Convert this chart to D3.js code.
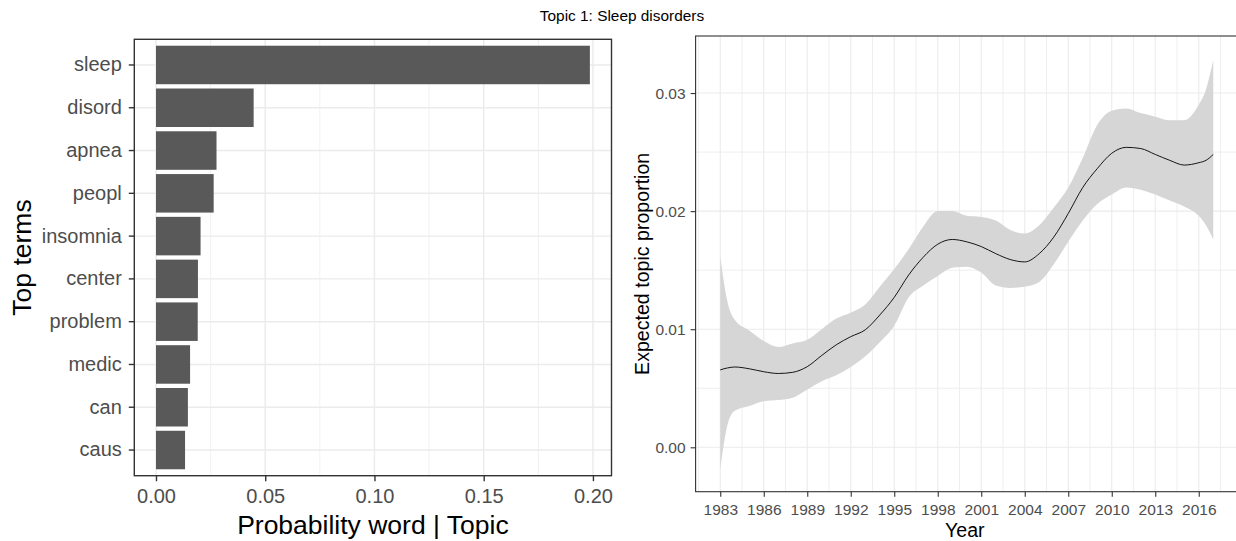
<!DOCTYPE html>
<html lang="en">
<head>
<meta charset="utf-8">
<title>Topic 1: Sleep disorders</title>
<script src="https://d3js.org/d3.v7.min.js"></script>
<style>
  body { margin: 0; background: #ffffff; }
  text { font-family: "Liberation Sans", Arial, sans-serif; }
</style>
</head>
<body>
<div id="my_dataviz"></div>
<script>

// left plot: top terms of the topic
var terms = ["sleep", "disord", "apnea", "peopl", "insomnia", "center", "problem", "medic", "can", "caus"];
var probs = [0.1986, 0.0447, 0.0277, 0.0264, 0.0204, 0.0192, 0.0191, 0.0156, 0.0146, 0.0133];
var probTicks = [0, 0.05, 0.10, 0.15, 0.20];

// right plot: expected topic proportion by year (smooth + ribbon)
var years = [1983, 1983.25, 1983.5, 1984, 1985, 1986, 1987, 1988, 1989, 1990, 1991, 1992, 1993, 1994, 1995, 1996, 1997, 1998, 1999, 2000,
             2001, 2002, 2003, 2004, 2005, 2006, 2007, 2008, 2009, 2010, 2011, 2012, 2013, 2014, 2015, 2016, 2016.5, 2017];
var propMean = [0.00655, 0.00665, 0.00672, 0.00680, 0.00665, 0.00640, 0.00625, 0.00635, 0.00683, 0.00778, 0.00868, 0.00937, 0.00995, 0.0112, 0.0127, 0.0146, 0.0161, 0.0172, 0.0176, 0.0174,
                0.0170, 0.0164, 0.0159, 0.0157, 0.0164, 0.0178, 0.0198, 0.0220, 0.0236, 0.0249, 0.0254, 0.0253, 0.0248, 0.0243, 0.0239, 0.0241, 0.0243, 0.0248];
var propUpper = [0.0162, 0.0140, 0.0123, 0.0108, 0.0099, 0.0090, 0.0085, 0.0088, 0.0091, 0.0100, 0.0109, 0.0114, 0.0121, 0.0136, 0.0151, 0.0168, 0.0187, 0.0200, 0.0200, 0.0196,
                 0.0195, 0.0192, 0.0184, 0.0181, 0.0188, 0.0203, 0.0220, 0.0245, 0.0273, 0.0285, 0.0287, 0.0283, 0.0280, 0.0277, 0.0277, 0.0290, 0.0303, 0.0328];
var propLower = [-0.0019, 0.0003, 0.0019, 0.0031, 0.0035, 0.0039, 0.0040, 0.0042, 0.0049, 0.0056, 0.0061, 0.0068, 0.0077, 0.0089, 0.0103, 0.0127, 0.0137, 0.0145, 0.0152, 0.0153,
                 0.0148, 0.0137, 0.0135, 0.0136, 0.0140, 0.0155, 0.0174, 0.0192, 0.0206, 0.0214, 0.0220, 0.0218, 0.0214, 0.0209, 0.0204, 0.0196, 0.0188, 0.0176];
var yearTicks = [1983, 1986, 1989, 1992, 1995, 1998, 2001, 2004, 2007, 2010, 2013, 2016];
var yearMinor = [1981.5, 1984.5, 1987.5, 1990.5, 1993.5, 1996.5, 1999.5, 2002.5, 2005.5, 2008.5, 2011.5, 2014.5, 2017.5];
var propTicks = [0, 0.01, 0.02, 0.03];
var propMinor = [0.005, 0.015, 0.025];

var W = 1236, H = 541;
var gridCol = "#ebebeb", borderCol = "#333333", tickTextCol = "#4d4d4d";

var svg = d3.select("#my_dataviz")
  .append("svg")
    .attr("width", W)
    .attr("height", H)
    .style("display", "block");

svg.append("rect").attr("width", W).attr("height", H).attr("fill", "#ffffff");

// overall title
svg.append("text")
  .attr("x", 622).attr("y", 21)
  .attr("text-anchor", "middle")
  .style("font-size", "15.4px")
  .attr("fill", "#000")
  .text("Topic 1: Sleep disorders");

/////////////////////// LEFT: bar chart ///////////////////////
var L = {left: 134.3, right: 611.5, top: 39.3, bottom: 475.7};

var x1 = d3.scaleLinear()
  .domain([-0.00993, 0.2085])
  .range([L.left, L.right]);

// discrete axis with ggplot style 0.6 expansion
var step = (L.bottom - L.top) / (terms.length - 1 + 1.2);
var y1 = d3.scaleBand()
  .domain(terms)
  .range([L.top + 0.1 * step, L.bottom - 0.1 * step])
  .paddingInner(0.1)
  .paddingOuter(0.05);
var yc = function(t) { return y1(t) + y1.bandwidth() / 2; };

var g1 = svg.append("g");

// minor grid
g1.selectAll(".minor")
  .data([0.025, 0.075, 0.125, 0.175])
  .enter().append("line")
    .attr("x1", function(d) { return x1(d); })
    .attr("x2", function(d) { return x1(d); })
    .attr("y1", L.top).attr("y2", L.bottom)
    .attr("stroke", gridCol).attr("stroke-width", 0.7);
// major grid
g1.selectAll(".majorx")
  .data(probTicks)
  .enter().append("line")
    .attr("x1", function(d) { return x1(d); })
    .attr("x2", function(d) { return x1(d); })
    .attr("y1", L.top).attr("y2", L.bottom)
    .attr("stroke", gridCol).attr("stroke-width", 1.4);
g1.selectAll(".majory")
  .data(terms)
  .enter().append("line")
    .attr("x1", L.left).attr("x2", L.right)
    .attr("y1", function(d) { return yc(d); })
    .attr("y2", function(d) { return yc(d); })
    .attr("stroke", gridCol).attr("stroke-width", 1.4);

// bars
g1.selectAll(".bar")
  .data(terms)
  .enter().append("rect")
    .attr("x", x1(0))
    .attr("y", function(d) { return y1(d); })
    .attr("width", function(d, i) { return x1(probs[i]) - x1(0); })
    .attr("height", y1.bandwidth())
    .attr("fill", "#595959");

// panel border
g1.append("rect")
  .attr("x", L.left).attr("y", L.top)
  .attr("width", L.right - L.left).attr("height", L.bottom - L.top)
  .attr("fill", "none").attr("stroke", borderCol).attr("stroke-width", 1.4);

// axes
var ax1 = g1.append("g")
  .attr("transform", "translate(0," + L.bottom + ")")
  .call(d3.axisBottom(x1).tickValues(probTicks).tickFormat(d3.format(".2f")).tickSize(5.5).tickPadding(8));
var ay1 = g1.append("g")
  .attr("transform", "translate(" + L.left + ",0)")
  .call(d3.axisLeft(y1).tickSize(5.5).tickPadding(7));
[ax1, ay1].forEach(function(a) {
  a.select(".domain").remove();
  a.selectAll(".tick line").attr("stroke", borderCol).attr("stroke-width", 1.4);
  a.selectAll(".tick text").attr("fill", tickTextCol).style("font-size", "20px")
    .style("font-family", "'Liberation Sans', Arial, sans-serif");
});

g1.append("text")
  .attr("x", (L.left + L.right) / 2).attr("y", 534)
  .attr("text-anchor", "middle")
  .style("font-size", "26.5px")
  .text("Probability word | Topic");
g1.append("text")
  .attr("transform", "translate(31," + (L.top + L.bottom) / 2 + ") rotate(-90)")
  .attr("text-anchor", "middle")
  .style("font-size", "26.5px")
  .text("Top terms");

/////////////////////// RIGHT: smooth over years ///////////////////////
var R = {left: 695.6, right: 1237.9, top: 36, bottom: 491.7};

var x2 = d3.scaleLinear()
  .domain([1981.3, 2018.7])
  .range([R.left, R.right]);
var y2 = d3.scaleLinear()
  .domain([-0.00376, 0.03483])
  .range([R.bottom, R.top]);

var g2 = svg.append("g");

g2.selectAll(".vminor")
  .data(yearMinor)
  .enter().append("line")
    .attr("x1", function(d) { return x2(d); })
    .attr("x2", function(d) { return x2(d); })
    .attr("y1", R.top).attr("y2", R.bottom)
    .attr("stroke", gridCol).attr("stroke-width", 0.8);
g2.selectAll(".hminor")
  .data(propMinor)
  .enter().append("line")
    .attr("x1", R.left).attr("x2", R.right)
    .attr("y1", function(d) { return y2(d); })
    .attr("y2", function(d) { return y2(d); })
    .attr("stroke", gridCol).attr("stroke-width", 0.8);
g2.selectAll(".vmajor")
  .data(yearTicks)
  .enter().append("line")
    .attr("x1", function(d) { return x2(d); })
    .attr("x2", function(d) { return x2(d); })
    .attr("y1", R.top).attr("y2", R.bottom)
    .attr("stroke", gridCol).attr("stroke-width", 1.1);
g2.selectAll(".hmajor")
  .data(propTicks)
  .enter().append("line")
    .attr("x1", R.left).attr("x2", R.right)
    .attr("y1", function(d) { return y2(d); })
    .attr("y2", function(d) { return y2(d); })
    .attr("stroke", gridCol).attr("stroke-width", 1.1);

var series = years.map(function(yr, i) {
  return {year: yr, mean: propMean[i], lo: propLower[i], hi: propUpper[i]};
});

// confidence ribbon
g2.append("path")
  .datum(series)
  .attr("fill", "#d6d6d6")
  .attr("d", d3.area()
    .curve(d3.curveMonotoneX)
    .x(function(d) { return x2(d.year); })
    .y0(function(d) { return y2(d.lo); })
    .y1(function(d) { return y2(d.hi); }));

// mean line
g2.append("path")
  .datum(series)
  .attr("fill", "none")
  .attr("stroke", "#000")
  .attr("stroke-width", 0.9)
  .attr("d", d3.line()
    .curve(d3.curveMonotoneX)
    .x(function(d) { return x2(d.year); })
    .y(function(d) { return y2(d.mean); }));

g2.append("rect")
  .attr("x", R.left).attr("y", R.top)
  .attr("width", R.right - R.left).attr("height", R.bottom - R.top)
  .attr("fill", "none").attr("stroke", borderCol).attr("stroke-width", 1.1);

var ax2 = g2.append("g")
  .attr("transform", "translate(0," + R.bottom + ")")
  .call(d3.axisBottom(x2).tickValues(yearTicks).tickFormat(d3.format("d")).tickSize(5).tickPadding(7));
var ay2 = g2.append("g")
  .attr("transform", "translate(" + R.left + ",0)")
  .call(d3.axisLeft(y2).tickValues(propTicks).tickFormat(d3.format(".2f")).tickSize(5).tickPadding(5));
[ax2, ay2].forEach(function(a) {
  a.select(".domain").remove();
  a.selectAll(".tick line").attr("stroke", borderCol).attr("stroke-width", 1.1);
  a.selectAll(".tick text").attr("fill", tickTextCol).style("font-size", "15.5px")
    .style("font-family", "'Liberation Sans', Arial, sans-serif");
});

g2.append("text")
  .attr("x", (R.left + 1234) / 2).attr("y", 537)
  .attr("text-anchor", "middle")
  .style("font-size", "19.6px")
  .text("Year");
g2.append("text")
  .attr("transform", "translate(649," + (R.top + R.bottom) / 2 + ") rotate(-90)")
  .attr("text-anchor", "middle")
  .style("font-size", "19.6px")
  .text("Expected topic proportion");

</script>
</body>
</html>
